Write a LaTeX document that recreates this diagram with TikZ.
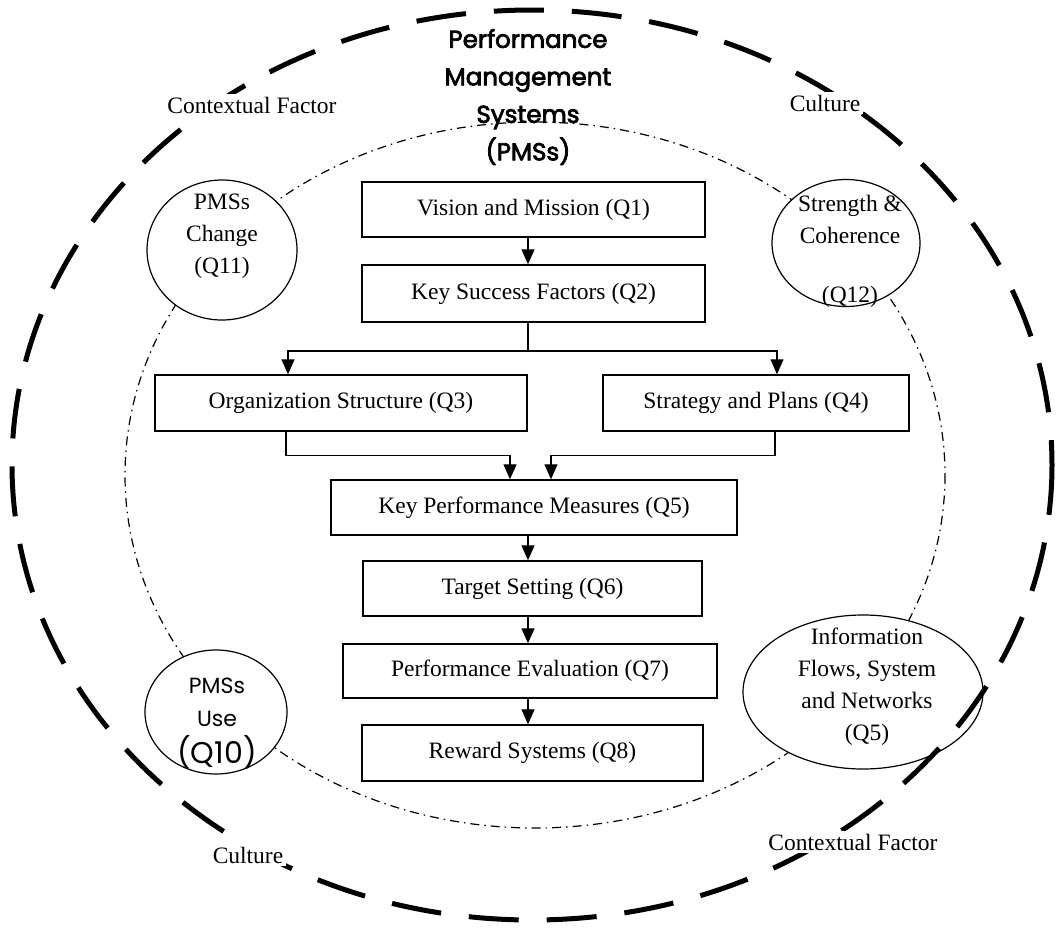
\documentclass[tikz,border=0pt]{standalone}
\usepackage{fontspec}
\setmainfont{Liberation Serif}
\newfontfamily\gothic{Poppins}
\newfontfamily\gothicb[FakeBold=3]{Poppins}
\usetikzlibrary{arrows.meta,shapes.geometric}
\tikzset{
  box/.style={draw, line width=1.4pt, minimum height=55pt, inner sep=0pt,
    font=\fontsize{23.5}{28}\selectfont},
  conn/.style={line width=1.3pt},
  arr/.style={line width=1.3pt, -{Triangle[length=15pt,width=13pt]}},
  bub/.style={draw, ellipse, line width=1.2pt, fill=white, inner sep=0pt},
  btext/.style={align=center, inner sep=0pt, font=\fontsize{23.5}{32}\selectfont},
  lab/.style={fill=white, inner sep=3pt, font=\fontsize{23.5}{28}\selectfont},
  outerring/.style={line width=5pt, dash pattern=on 50pt off 28pt},
  innerring/.style={line width=1.2pt, dash pattern=on 9pt off 5pt on 1.5pt off 5pt},
}
\begin{document}
\begin{tikzpicture}[x=1pt,y=-1pt]
\useasboundingbox (0,0) rectangle (1063,927);

% inner dash-dot ring
\draw[innerring] (535,475) ellipse [x radius=410, y radius=353];

% title
\node[align=center, inner sep=0pt, font=\gothicb\fontsize{24.5}{37.5}\selectfont] (title) at (528,97)
  {Performance\\Management\\Systems\\(PMSs)};

% bubbles
\node[bub, minimum width=150pt, minimum height=140pt] (chg) at (222,250) {};
\node[btext] (chgt) at (222,236) {PMSs\\Change\\(Q11)};

\node[bub, minimum width=148pt, minimum height=127pt] (coh) at (846,243) {};
\node[btext] (coht) at (850,251) {Strength \&\\Coherence\\[27pt](Q12)};

\node[bub, minimum width=142pt, minimum height=124pt] (use) at (216,712) {};
\node[align=center, inner sep=0pt, font=\gothic\fontsize{22}{33}\selectfont] (uset) at (217,724)
  {PMSs\\Use\\[4pt]{\fontsize{30}{36}\selectfont (Q10)}};

\node[bub, minimum width=240pt, minimum height=154pt] (info) at (863,692) {};

% outer dashed ring
\draw[outerring] (532,465) ellipse [x radius=520, y radius=455];

\node[btext] (infot) at (867,687) {Information\\Flows, System\\and Networks\\(Q5)};

% ring labels
\node[lab] (l1) at (252,105) {Contextual Factor};
\node[lab] (l2) at (825,103) {Culture};
\node[lab] (l3) at (248,855) {Culture};
\node[lab] (l4) at (853,842) {Contextual Factor};

% boxes
\node[box, minimum width=343pt] (v1) at (533.5,209.5) {Vision and Mission (Q1)};
\node[box, minimum width=343pt, minimum height=57pt] (v2) at (533.5,293.5) {Key Success Factors (Q2)};
\node[box, minimum width=372pt, minimum height=56pt] (org) at (341,403) {Organization Structure (Q3)};
\node[box, minimum width=306pt, minimum height=56pt] (strat) at (756,403) {Strategy and Plans (Q4)};
\node[box, minimum width=406pt] (kpm) at (534,507.5) {Key Performance Measures (Q5)};
\node[box, minimum width=339pt] (tgt) at (532.5,588.5) {Target Setting (Q6)};
\node[box, minimum width=374pt, minimum height=54pt] (pev) at (530,671) {Performance Evaluation (Q7)};
\node[box, minimum width=341pt, minimum height=56pt] (rew) at (532.5,753) {Reward Systems (Q8)};

% connectors
\coordinate (col) at (528,0);
\coordinate (sp) at (528,351);
\draw[arr] (v1.south -| col) -- (v2.north -| col);
\draw[conn] (v2.south -| sp) -- (sp);
\draw[arr] (sp) -| ([xshift=-53pt]org.north);
\draw[arr] (sp) -| ([xshift=21pt]strat.north);
\draw[arr] ([xshift=-55pt]org.south) -- ++(0,24) -| ([xshift=-24pt]kpm.north);
\draw[arr] ([xshift=19pt]strat.south) -- ++(0,24) -| ([xshift=17pt]kpm.north);
\draw[arr] (kpm.south -| col) -- (tgt.north -| col);
\draw[arr] (tgt.south -| col) -- (pev.north -| col);
\draw[arr] (pev.south -| col) -- (rew.north -| col);
\end{tikzpicture}
\end{document}
